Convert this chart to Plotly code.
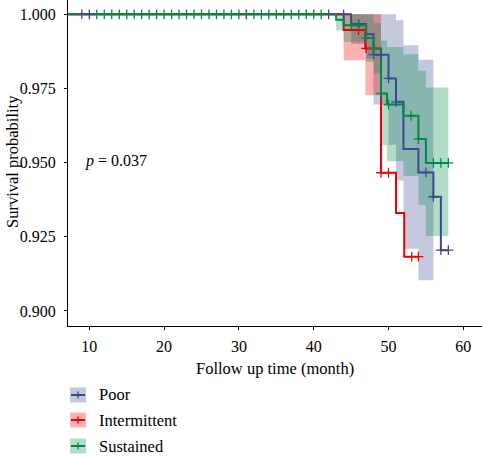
import plotly.graph_objects as go
import numpy as np

# ---------------- data ----------------
groups = ["Poor", "Intermittent", "Sustained"]
colors = ["#3B4992", "#EE0000", "#008B45"]
fills = ["rgba(59,73,146,0.3)", "rgba(238,0,0,0.3)", "rgba(0,139,69,0.3)"]

# Kaplan-Meier steps (event times, survival after event), end of follow-up
poor_t = [45.0, 47.0, 48.0, 50.0, 51.0, 52.0, 54.0, 56.0, 57.0]
poor_s = [0.9967, 0.9933, 0.9864, 0.9784, 0.9705, 0.9546, 0.9467, 0.9385, 0.9205]
poor_end = 58.0
poor_cens = [9, 10, 42, 44, 46, 48, 49, 50, 51, 55, 56, 57, 58]

inter_t = [44.0, 46.9, 49.0, 51.0, 52.1]
inter_s = [0.9947, 0.9885, 0.9466, 0.9330, 0.9183]
inter_end = 54.0
inter_cens = [31, 46, 47, 49, 50, 53.1, 54]

sust_t = [43.0, 44.0, 47.0, 48.0, 49.0, 49.8, 52.0, 54.0, 55.0]
sust_s = [0.9982, 0.9963, 0.9920, 0.9885, 0.9733, 0.9696, 0.9658, 0.9580, 0.9499]
sust_end = 58.0
sust_cens = list(range(11, 42)) + [45, 46, 47, 48, 49, 50, 53, 54, 56, 57, 58]

# confidence bands: interval boundaries, lower, upper
poor_ci_t = [45, 47, 48, 50, 51, 52, 54, 56]
poor_ci_lo = [0.990, 0.985, 0.9696, 0.956, 0.944, 0.921, 0.9104]
poor_ci_hi = [1.0, 1.0, 1.0, 1.0, 0.998, 0.9896, 0.9847]

inter_ci_t = [44, 46.9, 49]
inter_ci_lo = [0.9845, 0.9727]
inter_ci_hi = [1.0, 1.0]

sust_ci_t = [43, 44, 47, 48, 49, 49.8, 52, 54, 55, 58]
sust_ci_lo = [0.9946, 0.9907, 0.984, 0.980, 0.9559, 0.9505, 0.9455, 0.9357, 0.9253]
sust_ci_hi = [1.0, 1.0, 1.0, 0.997, 0.9912, 0.989, 0.9865, 0.981, 0.9753]

pval_text = "<i>p</i> = 0.037"
x_ticks = [10, 20, 30, 40, 50, 60]
y_ticks = [0.900, 0.925, 0.950, 0.975, 1.000]

steps = [(poor_t, poor_s, poor_end), (inter_t, inter_s, inter_end), (sust_t, sust_s, sust_end)]
cens = [poor_cens, inter_cens, sust_cens]
cis = [(poor_ci_t, poor_ci_lo, poor_ci_hi), (inter_ci_t, inter_ci_lo, inter_ci_hi),
       (sust_ci_t, sust_ci_lo, sust_ci_hi)]

FONT = "Liberation Serif"
W, H = 482, 456
L, R, T, B = 68, 0, 0, 130
PW, PH = W - L - R, H - T - B


def surv_at(t, times, survs):
    s = 1.0
    for ti, si in zip(times, survs):
        if t >= ti - 1e-9:
            s = si
    return s


fig = go.Figure()

# bands
for (bt, lo, hi), fc in zip(cis, fills):
    xs, ys = [], []
    for i in range(len(lo)):
        xs += [bt[i], bt[i + 1]]
        ys += [hi[i], hi[i]]
    for i in reversed(range(len(lo))):
        xs += [bt[i + 1], bt[i]]
        ys += [lo[i], lo[i]]
    fig.add_trace(go.Scatter(x=xs, y=ys, fill="toself", fillcolor=fc, mode="lines",
                             line=dict(width=0), hoverinfo="skip", showlegend=False))

# step lines
for (tt, ss, end), c, g in zip(steps, colors, groups):
    xs = [0] + list(tt) + [end]
    ys = [1.0] + list(ss) + [ss[-1]]
    fig.add_trace(go.Scatter(x=xs, y=ys, mode="lines", line=dict(color=c, width=2, shape="hv"),
                             name=g, showlegend=False))

# censor marks
for (tt, ss, end), cc, c in zip(steps, cens, colors):
    ys = [surv_at(t, tt, ss) for t in cc]
    fig.add_trace(go.Scatter(x=cc, y=ys, mode="markers",
                             marker=dict(symbol="cross-thin", size=7, color=c,
                                         line=dict(width=1.3, color=c)),
                             showlegend=False, hoverinfo="skip"))

def px_x(px):
    return (px - L) / PW

def px_y(py):
    return (H - B - py) / PH

annotations = [
    dict(x=9.2, y=0.9505, xref="x", yref="y", text=pval_text, showarrow=False,
         xanchor="left", yanchor="middle", font=dict(family=FONT, size=16, color="black")),
    dict(x=px_x(275), y=px_y(369), xref="paper", yref="paper", text="Follow up time (month)",
         showarrow=False, xanchor="center", yanchor="middle",
         font=dict(family=FONT, size=16.5, color="black")),
    dict(x=px_x(12), y=px_y(162), xref="paper", yref="paper", text="Survival probability",
         showarrow=False, textangle=-90, xanchor="center", yanchor="middle",
         font=dict(family=FONT, size=16.5, color="black")),
]

shapes = []
rows = [395, 420, 446]
for g, c, fc, ry in zip(groups, colors, fills, rows):
    shapes.append(dict(type="rect", xref="paper", yref="paper", x0=px_x(70), x1=px_x(86),
                       y0=px_y(ry - 7.5), y1=px_y(ry + 7.5), fillcolor=fc, line=dict(width=0)))
    shapes.append(dict(type="line", xref="paper", yref="paper", x0=px_x(71), x1=px_x(85),
                       y0=px_y(ry), y1=px_y(ry), line=dict(color=c, width=2)))
    shapes.append(dict(type="line", xref="paper", yref="paper", x0=px_x(78), x1=px_x(78),
                       y0=px_y(ry - 3.5), y1=px_y(ry + 3.5), line=dict(color=c, width=1.3)))
    annotations.append(dict(x=px_x(97), y=px_y(ry), xref="paper", yref="paper", text=g,
                            showarrow=False, xanchor="left", yanchor="middle",
                            font=dict(family=FONT, size=16.5, color="black")))

fig.update_layout(
    width=W, height=H, margin=dict(l=L, r=R, t=T, b=B, pad=0),
    paper_bgcolor="white", plot_bgcolor="white",
    font=dict(family=FONT, size=16, color="black"),
    annotations=annotations, shapes=shapes, showlegend=False,
    xaxis=dict(range=[7.15, 62.5], tickvals=x_ticks, ticks="outside", ticklen=3, tickwidth=1,
               tickcolor="black", showline=True, linecolor="black", linewidth=1.3,
               ticklabelstandoff=3,
               showgrid=False, zeroline=False, tickfont=dict(family=FONT, size=16, color="black")),
    yaxis=dict(range=[0.89494, 1.00482], tickvals=y_ticks, tickformat=".3f", ticks="outside",
               ticklen=3, tickwidth=1, tickcolor="black", showline=True, linecolor="black",
               linewidth=1.3, showgrid=False, zeroline=False, ticklabelstandoff=5,
               tickfont=dict(family=FONT, size=16, color="black")),
)

fig.write_html("out.html")
